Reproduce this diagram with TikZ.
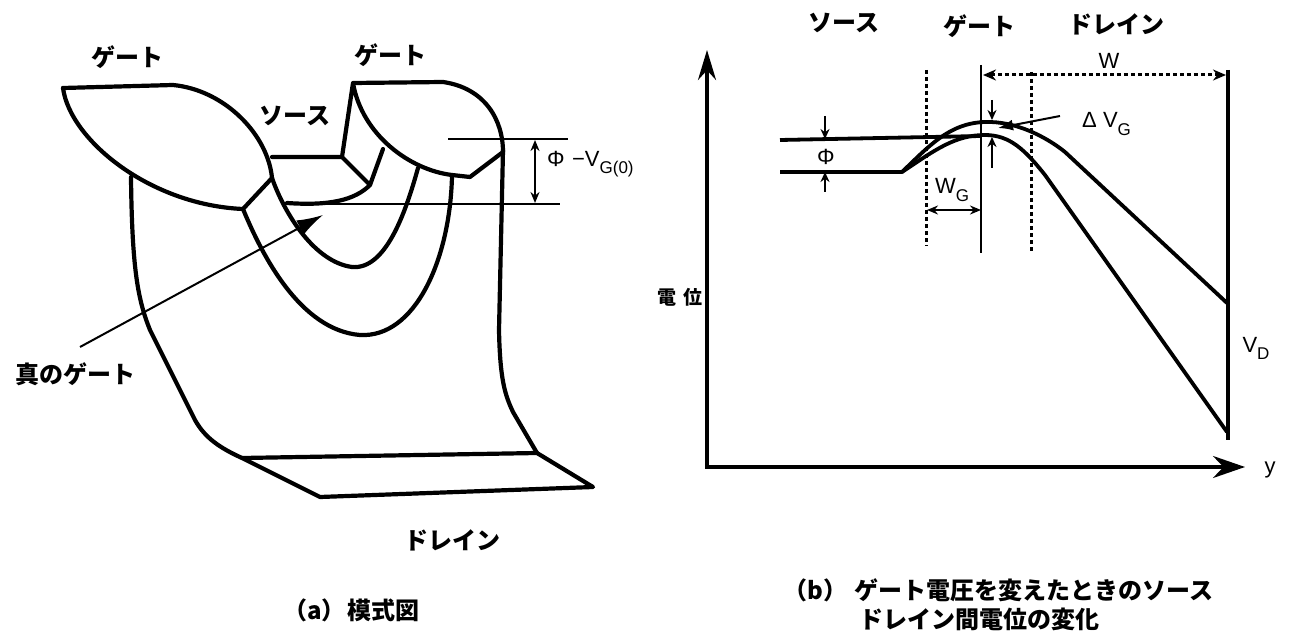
\documentclass[tikz,border=0pt]{standalone}
\usepackage{fontspec}
\setmainfont{Liberation Sans}
\newfontfamily\jpfont{Noto Sans CJK JP}
\usetikzlibrary{arrows.meta}
\newcommand\lowsub[1]{\raisebox{-0.32em}{\fontsize{17pt}{17pt}\selectfont #1}}
\begin{document}
\begin{tikzpicture}[x=1pt,y=-1pt,
  heavy/.style={line width=4.2pt,line join=round,line cap=round},
  fine/.style={line width=2pt},
  axisline/.style={line width=3.3pt},
  curve/.style={line width=3.8pt,line join=round},
  dotline/.style={line width=3pt,dash pattern=on 4pt off 3pt},
  jp/.style={font=\jpfont\bfseries\fontsize{24pt}{24pt}\selectfont,inner sep=0pt},
  lat/.style={font=\fontsize{22pt}{22pt}\selectfont,inner sep=0pt},
  smalltip/.style={-{Stealth[length=10pt,width=9pt]}},
  bothtips/.style={{Stealth[length=11pt,width=9pt]}-{Stealth[length=11pt,width=9pt]}},
]
\fill[white] (0,0) rectangle (1295,639);
\useasboundingbox (0,0) rectangle (1295,639);

% ---------------- (a) schematic ----------------
% left gate
\draw[heavy] (63,88) -- (173,85) .. controls (225,90) and (268,135) .. (272,178);
\draw[heavy] (63,88) .. controls (70,140) and (150,205) .. (243,209) -- (272,178);
% source face and right gate
\draw[heavy] (272,157) -- (342,157) -- (353,83) -- (443,82)
  .. controls (485,88) and (503,120) .. (503,152) -- (470,177) -- (452,175)
  .. controls (410,170) and (362,135) .. (353,83);
\draw[heavy] (342,157) -- (370,185) -- (383,149);
\draw[heavy] (287,203) .. controls (330,206) and (355,200) .. (370,185);
% channel contours
\draw[heavy] (272,178) .. controls (285,215) and (315,262) .. (352,267)
  .. controls (385,270) and (405,215) .. (418,168);
\draw[heavy] (243,209) .. controls (262,255) and (300,330) .. (360,335)
  .. controls (415,338) and (450,260) .. (452,176);
% body and drain plate
\draw[heavy] (131,177) .. controls (132,270) and (138,300) .. (150,330) -- (195,420)
  .. controls (205,438) and (220,448) .. (242,458);
\draw[heavy] (242,458) -- (320,497) -- (593,487) -- (537,453) -- cycle;
\draw[heavy] (503,150) -- (499,330) .. controls (500,380) and (505,395) .. (513,412) -- (537,453);
% barrier height reference
\draw[fine] (288,204) -- (560,204);
\draw[fine] (448,139) -- (568,139);
\coordinate (phtop) at (535,140);
\coordinate (phbot) at (535,203);
\draw[fine,bothtips] (phtop) -- (phbot);
\coordinate (tgtail) at (80,347);
\coordinate (tghead) at (323,215);
\draw[fine,-{Latex[length=26pt,width=16pt]}] (tgtail) -- (tghead);

\node[jp] (gateA) at (127,57) {ゲート};
\node[jp] (gateB) at (390,55) {ゲート};
\node[jp] (srcA) at (295,116) {ソース};
\node[jp] (trueg) at (75,374) {真のゲート};
\node[jp] (drnA) at (452,540) {ドレイン};
\node[jp,anchor=west] (capA) at (283,610) {（a）\hspace{2pt}模式図};
\node[lat,anchor=west] (phlab) at (547,164) {Φ\,\,−V\lowsub{G(0)}};

% ---------------- (b) potential profile ----------------
\draw[axisline,{Stealth[length=30pt,width=18pt]}-{Stealth[length=32pt,width=22pt]}]
  (707,50) -- (707,467) -- (1245,467);
\draw[axisline] (1228,70) -- (1228,440);
\draw[line width=2.8pt] (981,65) -- (981,253);
\draw[dotline] (926,70) -- (926,246);
\draw[dotline] (1031,72) -- (1031,253);
\coordinate (wl) at (983,75);
\coordinate (wr) at (1226,75);
\draw[dotline,{Stealth[length=13pt,width=11pt]}-{Stealth[length=13pt,width=11pt]}] (wl) -- (wr);

% potential curves
\draw[curve] (780,140) -- (981,136);
\draw[curve] (780,172) -- (902,172) .. controls (935,150) and (955,135) .. (985,135)
  .. controls (1010,135) and (1025,150) .. (1045,175) -- (1227,432);
\draw[curve] (902,172) .. controls (930,145) and (950,123) .. (985,122)
  .. controls (1015,121) and (1045,136) .. (1065,152) -- (1227,303);

% dimension arrows
\coordinate (pa1) at (825,116); \coordinate (pa2) at (825,139);
\coordinate (pb1) at (825,192); \coordinate (pb2) at (825,172);
\draw[fine,smalltip] (pa1) -- (pa2);
\draw[fine,smalltip] (pb1) -- (pb2);
\coordinate (da1) at (992,100); \coordinate (da2) at (992,120);
\coordinate (db1) at (992,168); \coordinate (db2) at (992,137);
\draw[fine,smalltip] (da1) -- (da2);
\draw[fine,smalltip] (db1) -- (db2);
\coordinate (dvtail) at (1060,116); \coordinate (dvhead) at (998,128);
\draw[fine,-{Latex[length=15pt,width=11pt]}] (dvtail) -- (dvhead);
\coordinate (wgl) at (927,210); \coordinate (wgr) at (981,210);
\draw[fine,bothtips] (wgl) -- (wgr);

\node[jp] (srcB) at (844,23) {ソース};
\node[jp] (gateC) at (979,26) {ゲート};
\node[jp] (drnB) at (1116,24) {ドレイン};
\node[lat] (wlab) at (1109,61) {W};
\node[lat,anchor=west] (dvlab) at (1082,124) {Δ V\lowsub{G}};
\node[lat] (phi) at (826,157) {Φ};
\node[lat] (wglab) at (952,190) {W\lowsub{G}};
\node[lat] (vdlab) at (1256,348) {V\lowsub{D}};
\node[lat] (ylab) at (1270,470) {y};
\node[jp,font=\jpfont\bfseries\fontsize{19pt}{19pt}\selectfont] (pot) at (680,297) {電\,\,位};
\node[jp,anchor=west] (capB1) at (783,590) {（b）\hspace{8pt}ゲート電圧を変えたときのソース};
\node[jp,anchor=west] (capB2) at (859,619) {ドレイン間電位の変化};
\end{tikzpicture}
\end{document}
